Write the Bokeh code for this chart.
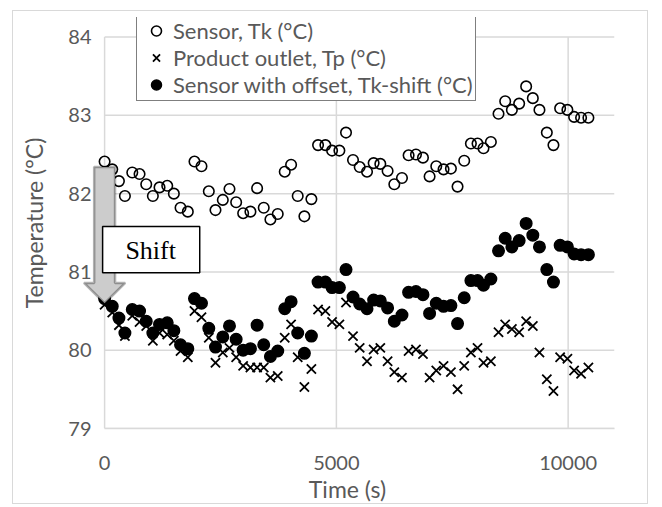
from bokeh.plotting import figure
from bokeh.models import (Range1d, FixedTicker, Legend, LegendItem, PolyAnnotation,
                          BoxAnnotation, Label)
from bokeh.embed import file_html
from bokeh.resources import INLINE

time_s = [0, 165, 309, 438, 597, 754, 898, 1041, 1185, 1351, 1494, 1638, 1795, 1939,
          2090, 2248, 2392, 2550, 2694, 2838, 2989, 3146, 3290, 3433, 3577, 3735, 3886,
          4023, 4166, 4310, 4461, 4605, 4763, 4907, 5065, 5208, 5359, 5503, 5661, 5804,
          5948, 6105, 6250, 6415, 6558, 6717, 6868, 7011, 7155, 7312, 7471, 7614, 7758,
          7902, 8045, 8174, 8333, 8498, 8642, 8786, 8943, 9094, 9238, 9381, 9540, 9683,
          9827, 9984, 10129, 10279, 10437]

sensor_tk = [82.41, 82.31, 82.16, 81.97, 82.27, 82.25, 82.12, 81.97, 82.08, 82.10, 82.00,
             81.82, 81.77, 82.41, 82.35, 82.03, 81.79, 81.92, 82.06, 81.89, 81.75, 81.77,
             82.07, 81.82, 81.67, 81.74, 82.28, 82.37, 81.97, 81.71, 81.93, 82.62, 82.62,
             82.55, 82.55, 82.78, 82.43, 82.34, 82.28, 82.39, 82.38, 82.29, 82.12, 82.20,
             82.49, 82.50, 82.46, 82.22, 82.35, 82.31, 82.32, 82.09, 82.42, 82.64, 82.64,
             82.58, 82.66, 83.02, 83.18, 83.07, 83.15, 83.37, 83.22, 83.07, 82.78, 82.62,
             83.09, 83.07, 82.98, 82.97, 82.97]

product_tp = [80.58, 80.48, 80.32, 80.18, 80.44, 80.36, 80.31, 80.12, 80.22, 80.20, 80.12,
              79.99, 79.91, 80.50, 80.42, 80.16, 79.84, 79.97, 80.03, 79.91, 79.80, 79.78,
              79.78, 79.78, 79.65, 79.67, 80.16, 80.33, 79.91, 79.53, 79.76, 80.52, 80.50,
              80.36, 80.33, 80.61, 80.18, 80.03, 79.86, 80.01, 80.03, 79.86, 79.72, 79.65,
              79.99, 80.01, 79.95, 79.65, 79.74, 79.80, 79.72, 79.50, 79.80, 79.97, 80.03,
              79.84, 79.86, 80.23, 80.33, 80.27, 80.23, 80.37, 80.31, 79.97, 79.63, 79.48,
              79.91, 79.89, 79.74, 79.70, 79.78]

sensor_shift = [80.66, 80.56, 80.41, 80.22, 80.52, 80.50, 80.37, 80.22, 80.33, 80.35, 80.25,
                80.07, 80.02, 80.66, 80.60, 80.28, 80.04, 80.17, 80.31, 80.14, 80.00, 80.02,
                80.32, 80.07, 79.92, 79.99, 80.53, 80.62, 80.22, 79.96, 80.18, 80.87, 80.87,
                80.80, 80.80, 81.03, 80.68, 80.59, 80.53, 80.64, 80.63, 80.54, 80.37, 80.45,
                80.74, 80.75, 80.71, 80.47, 80.60, 80.56, 80.57, 80.34, 80.67, 80.89, 80.89,
                80.83, 80.91, 81.27, 81.43, 81.32, 81.40, 81.62, 81.47, 81.32, 81.03, 80.87,
                81.34, 81.32, 81.23, 81.22, 81.22]

x_ticks = [0, 5000, 10000]
y_ticks = [79, 80, 81, 82, 83, 84]
x_axis_max = 11000
labels = ["Sensor, Tk (°C)", "Product outlet, Tp (°C)", "Sensor with offset, Tk-shift (°C)"]

FONT = "Lato"
GREY_TXT = "#595959"
GRID = "#d9d9d9"

# frame is a little larger than the axes' box so the legend and the arrow are not clipped
p = figure(width=636, height=494, output_backend="svg", toolbar_location=None,
           x_range=Range1d(-520, x_axis_max), y_range=Range1d(y_ticks[0], 84.25),
           min_border_left=67, min_border_right=35, min_border_top=6, min_border_bottom=75)
p.styles = {"margin-left": "12px", "margin-top": "10px", "border": "1px solid #d9d9d9"}
p.outline_line_color = None
p.background_fill_color = "white"
p.border_fill_color = "white"
p.xgrid.visible = False
p.ygrid.visible = False

p.xaxis.ticker = FixedTicker(ticks=x_ticks)
p.yaxis.ticker = FixedTicker(ticks=y_ticks)
p.xaxis.bounds = (0, x_axis_max)
p.yaxis.bounds = (y_ticks[0], y_ticks[-1])
for ax in (p.xaxis[0], p.yaxis[0]):
    ax.axis_line_color = GRID
    ax.axis_line_width = 1.5
    ax.major_tick_line_color = None
    ax.minor_tick_line_color = None
    ax.major_label_text_font = FONT
    ax.major_label_text_font_size = "20px"
    ax.major_label_text_color = GREY_TXT
    ax.axis_label_text_font = FONT
    ax.axis_label_text_font_size = "23px"
    ax.axis_label_text_font_style = "normal"
    ax.axis_label_text_color = GREY_TXT
p.yaxis.axis_line_color = None
p.xaxis.axis_label = "Time (s)"
p.yaxis.axis_label = "Temperature (°C)"
p.xaxis.major_label_standoff = 21
p.yaxis.major_label_standoff = -17
p.xaxis.axis_label_standoff = 2
p.yaxis.axis_label_standoff = 17

# gridlines limited to the axes' box
p.segment(x0=0, x1=x_axis_max, y0=y_ticks, y1=y_ticks, line_color=GRID, line_width=1.5,
          level="underlay")
p.segment(x0=x_ticks, x1=x_ticks, y0=y_ticks[0], y1=y_ticks[-1], line_color=GRID,
          line_width=1.5, level="underlay")

r_tk = p.scatter(time_s, sensor_tk, marker="circle", size=10.5, fill_color=None,
                 line_color="black", line_width=1.6)
r_tp = p.scatter(time_s, product_tp, marker="x", size=13, line_color="black", line_width=1.8)
r_sh = p.scatter(time_s, sensor_shift, marker="circle", size=11.5, fill_color="black",
                 line_color="black", line_width=1.5)

legend = Legend(items=[LegendItem(label=labels[0], renderers=[r_tk]),
                       LegendItem(label=labels[1], renderers=[r_tp]),
                       LegendItem(label=labels[2], renderers=[r_sh])],
                location=(56, 327), orientation="vertical",
                border_line_color="black", border_line_width=1.2,
                background_fill_color="white", background_fill_alpha=1,
                label_text_font=FONT, label_text_font_size="22px", label_text_color=GREY_TXT,
                glyph_width=34, glyph_height=25, label_height=20, label_standoff=0,
                padding=2, spacing=0, margin=0)
p.add_layout(legend)

arrow = PolyAnnotation(xs=[-225, 225, 225, 445, 0, -445, -225],
                       ys=[82.34, 82.34, 80.86, 80.86, 80.60, 80.86, 80.86],
                       fill_color="#cccccc", fill_alpha=1, line_color="black",
                       line_width=2.5, level="overlay")
p.add_layout(arrow)
box = BoxAnnotation(left=-43, right=2052, top=81.58, bottom=80.99, fill_color="white",
                    fill_alpha=1, line_color="black", line_width=1.5, line_alpha=1,
                    level="overlay")
p.add_layout(box)
shift_lbl = Label(x=994, y=81.28, text="Shift", text_align="center", text_baseline="middle",
                  text_font="Liberation Serif", text_font_size="26px", text_color="black",
                  level="overlay")
p.add_layout(shift_lbl)

open("out.html", "w").write(file_html(p, INLINE))
